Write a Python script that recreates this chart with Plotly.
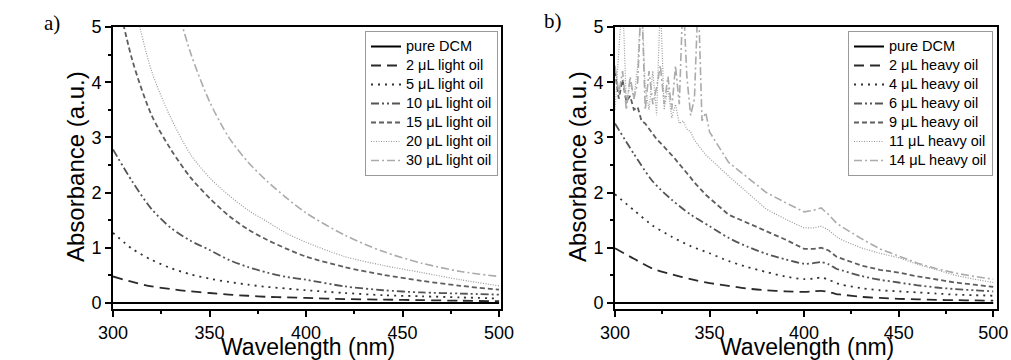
import plotly.graph_objects as go

# ---------------- Panel a data (light oil) ----------------
a_wavelength = [300, 310, 320, 330, 340, 350, 360, 370, 380, 390, 400, 420, 440, 460, 480, 500]
a_dcm   = [0.0] * len(a_wavelength)
a_2uL   = [0.48, 0.38, 0.30, 0.25, 0.21, 0.18, 0.15, 0.13, 0.11, 0.10, 0.09, 0.07, 0.06, 0.05, 0.04, 0.03]
a_5uL   = [1.27, 0.98, 0.78, 0.63, 0.52, 0.44, 0.38, 0.33, 0.29, 0.26, 0.23, 0.18, 0.14, 0.12, 0.10, 0.08]
a_10uL  = [2.78, 2.20, 1.70, 1.36, 1.13, 0.96, 0.78, 0.65, 0.55, 0.47, 0.42, 0.30, 0.23, 0.19, 0.17, 0.15]
a_15uL  = [5.90, 4.40, 3.40, 2.78, 2.28, 1.90, 1.58, 1.33, 1.14, 0.98, 0.84, 0.65, 0.51, 0.40, 0.31, 0.24]
a_20uL  = [7.50, 5.60, 4.20, 3.35, 2.70, 2.27, 1.95, 1.68, 1.47, 1.26, 1.10, 0.84, 0.68, 0.55, 0.42, 0.31]
a_30uL  = [12.0, 9.50, 7.50, 5.80, 4.55, 3.65, 3.00, 2.55, 2.20, 1.90, 1.63, 1.23, 0.93, 0.72, 0.57, 0.48]
a_names = ["pure DCM", "2 \u03bcL light oil", "5 \u03bcL light oil", "10 \u03bcL light oil",
           "15 \u03bcL light oil", "20 \u03bcL light oil", "30 \u03bcL light oil"]

# ---------------- Panel b data (heavy oil) ----------------
b_wl_smooth = [300, 310, 320, 330, 340, 350, 360, 370, 380, 390, 400, 405, 409, 413, 417, 420,
               430, 440, 450, 460, 470, 480, 490, 500]
b_dcm  = [0.0] * len(b_wl_smooth)
b_2uL  = [0.99, 0.80, 0.62, 0.52, 0.43, 0.36, 0.31, 0.26, 0.23, 0.21, 0.20, 0.21, 0.22, 0.20, 0.16, 0.15,
          0.11, 0.09, 0.075, 0.065, 0.055, 0.05, 0.045, 0.04]
b_4uL  = [1.97, 1.68, 1.40, 1.20, 1.03, 0.90, 0.76, 0.65, 0.56, 0.48, 0.43, 0.44, 0.46, 0.42, 0.36, 0.33,
          0.27, 0.23, 0.21, 0.19, 0.17, 0.15, 0.14, 0.13]
b_6uL  = [3.25, 2.70, 2.20, 1.87, 1.60, 1.39, 1.18, 1.02, 0.89, 0.79, 0.71, 0.72, 0.74, 0.70, 0.62, 0.59,
          0.49, 0.42, 0.37, 0.32, 0.28, 0.25, 0.23, 0.21]

b_wl_noisy = [300, 302, 304, 306, 308, 310, 312, 314, 316, 318, 320, 322, 324, 326, 328, 330, 332, 334,
              336, 338, 340, 342, 344, 346, 348, 350, 360, 370, 380, 390, 400, 405, 409, 413, 417, 420,
              430, 440, 450, 460, 470, 480, 490, 500]
b_9uL  = [4.20, 3.70, 4.05, 3.65, 3.75, 3.50, 3.55, 3.30, 3.25, 3.15, 3.05, 2.97, 2.90, 2.83, 2.75, 2.68,
          2.60, 2.52, 2.44, 2.36, 2.27, 2.18, 2.10, 2.02, 1.96, 1.90, 1.60, 1.45, 1.30, 1.15, 0.98, 0.98,
          1.00, 0.95, 0.84, 0.80, 0.68, 0.60, 0.55, 0.48, 0.42, 0.37, 0.33, 0.29]
b_11uL = [3.50, 4.40, 5.60, 3.60, 4.00, 3.70, 4.30, 5.60, 3.90, 3.50, 4.20, 3.40, 5.50, 3.50, 3.90, 3.35,
          3.60, 3.25, 3.30, 3.15, 3.10, 2.95, 2.86, 2.75, 2.68, 2.62, 2.30, 2.00, 1.70, 1.52, 1.36, 1.36,
          1.39, 1.32, 1.20, 1.14, 1.00, 0.90, 0.82, 0.70, 0.60, 0.50, 0.43, 0.37]
b_14uL = [4.30, 3.80, 4.20, 3.50, 4.10, 3.70, 4.00, 5.60, 3.50, 4.20, 3.60, 3.90, 4.30, 3.60, 4.10, 3.50,
          4.30, 3.60, 5.60, 4.10, 3.40, 3.70, 5.60, 3.30, 3.45, 3.10, 2.55, 2.27, 2.00, 1.82, 1.65, 1.68,
          1.72, 1.60, 1.45, 1.38, 1.17, 0.98, 0.85, 0.72, 0.62, 0.54, 0.48, 0.43]
b_names = ["pure DCM", "2 \u03bcL heavy oil", "4 \u03bcL heavy oil", "6 \u03bcL heavy oil",
           "9 \u03bcL heavy oil", "11 \u03bcL heavy oil", "14 \u03bcL heavy oil"]

# ---------------- Styles ----------------
colors = ["#000000", "#2a2a2a", "#333333", "#555555", "#5e5e5e", "#9a9a9a", "#ababab"]
dashes = ["solid", "10px,6px", "2px,5px", "8px,3px,2px,3px,2px,3px", "5px,3px", "1px,1.5px", "8px,3px,2px,3px"]
widths = [2.0, 1.8, 1.8, 1.8, 1.8, 1.2, 1.6]

W, H = 1011, 360
FONT = "Liberation Sans, Arial, sans-serif"
LEG_TXT = '<span style="font-size:14.5px">{}</span>'

fig = go.Figure()

a_series = [a_dcm, a_2uL, a_5uL, a_10uL, a_15uL, a_20uL, a_30uL]
for i, (name, ys) in enumerate(zip(a_names, a_series)):
    fig.add_trace(go.Scatter(x=a_wavelength, y=ys, name=LEG_TXT.format(name), mode="lines",
                             line=dict(color=colors[i], dash=dashes[i], width=widths[i], shape="spline", smoothing=0.8),
                             xaxis="x", yaxis="y", legend="legend"))

b_series = [(b_wl_smooth, b_dcm), (b_wl_smooth, b_2uL), (b_wl_smooth, b_4uL), (b_wl_smooth, b_6uL),
            (b_wl_noisy, b_9uL), (b_wl_noisy, b_11uL), (b_wl_noisy, b_14uL)]
for i, (name, (xs, ys)) in enumerate(zip(b_names, b_series)):
    fig.add_trace(go.Scatter(x=xs, y=ys, name=LEG_TXT.format(name), mode="lines",
                             line=dict(color=colors[i], dash=dashes[i], width=widths[i],
                                       shape="spline" if i < 4 else "linear", smoothing=0.8),
                             xaxis="x2", yaxis="y2", legend="legend2"))

def px_x(p):
    return p / W

def px_y(p):
    return 1 - p / H

ydom = [px_y(309), px_y(27)]

axis_common = dict(showline=True, linecolor="black", linewidth=2, mirror=True,
                   ticks="outside", ticklen=6, tickwidth=1.5, tickcolor="black",
                   showgrid=False, zeroline=False, automargin=False,
                   tickfont=dict(family=FONT, size=18, color="black"),
                   minor=dict(ticks="outside", ticklen=3, tickwidth=1.5, tickcolor="black", showgrid=False))

legend_common = dict(xanchor="right", yanchor="top", bgcolor="rgba(255,255,255,0)",
                     bordercolor="#9a9a9a", borderwidth=1, tracegroupgap=0,
                     font=dict(family=FONT, size=12, color="black"))

fig.update_layout(
    width=W, height=H,
    margin=dict(l=0, r=0, t=0, b=0, autoexpand=False),
    paper_bgcolor="white", plot_bgcolor="white",
    font=dict(family=FONT, color="black"),
    xaxis=dict(domain=[px_x(113), px_x(501)], range=[300, 501], anchor="y",
               tickvals=[300, 350, 400, 450, 500], minor_dtick=25, **axis_common),
    yaxis=dict(domain=ydom, range=[-0.11, 5], anchor="x",
               tickvals=[0, 1, 2, 3, 4, 5], minor_dtick=0.5, **axis_common),
    xaxis2=dict(domain=[px_x(615), px_x(997)], range=[300, 502], anchor="y2",
                tickvals=[300, 350, 400, 450, 500], minor_dtick=25, **axis_common),
    yaxis2=dict(domain=ydom, range=[-0.11, 5], anchor="x2",
                tickvals=[0, 1, 2, 3, 4, 5], minor_dtick=0.5, **axis_common),
    legend=dict(x=px_x(498), y=px_y(31), **legend_common),
    legend2=dict(x=px_x(993), y=px_y(31), **legend_common),
    showlegend=True,
)

annotations = [
    dict(text="a)", x=px_x(52), y=px_y(23), font=dict(family="Liberation Serif, Times New Roman, serif", size=21)),
    dict(text="b)", x=px_x(553), y=px_y(21), font=dict(family="Liberation Serif, Times New Roman, serif", size=21)),
    dict(text="Absorbance (a.u.)", x=px_x(75), y=px_y(167), textangle=-90, font=dict(family=FONT, size=24)),
    dict(text="Absorbance (a.u.)", x=px_x(577), y=px_y(167), textangle=-90, font=dict(family=FONT, size=24)),
    dict(text="Wavelength (nm)", x=px_x(308), y=px_y(347), font=dict(family=FONT, size=23)),
    dict(text="Wavelength (nm)", x=px_x(807), y=px_y(347), font=dict(family=FONT, size=23)),
]
for a in annotations:
    a.update(xref="paper", yref="paper", showarrow=False, xanchor="center", yanchor="middle")
    a["font"]["color"] = "black"
fig.update_layout(annotations=annotations)

# remove the browser's default 8px page margin so the figure sits at the window origin
fig.write_html("out.html", config={"displayModeBar": False},
               post_script="document.body.style.margin='0';")
